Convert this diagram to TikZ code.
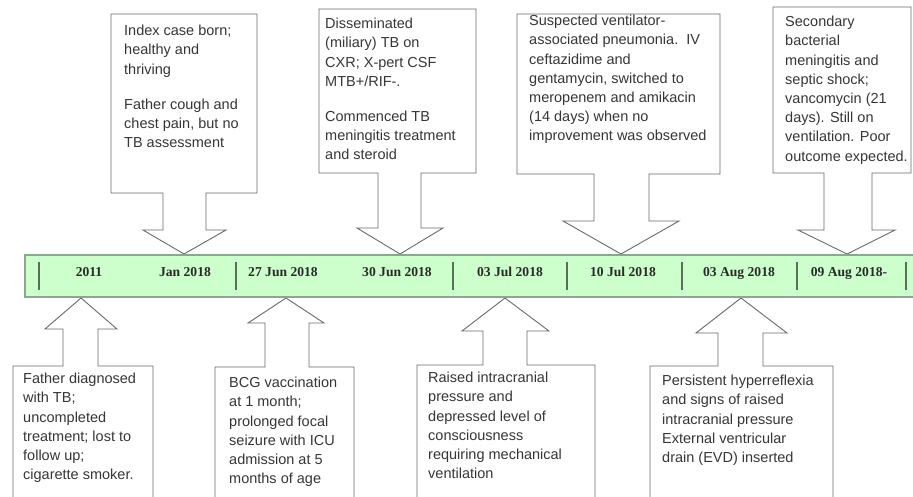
\documentclass[tikz,border=0pt]{standalone}
\usepackage{fontspec}
\setmainfont{Liberation Sans}
\newfontfamily\datefont{Liberation Serif}
\definecolor{boxline}{HTML}{6A6A6A}
\definecolor{evtxt}{HTML}{363636}
\definecolor{barfill}{HTML}{CCFFCC}
\definecolor{barline}{HTML}{8CA88C}
\definecolor{tickcol}{HTML}{587058}
\definecolor{datecol}{HTML}{2A2A2A}
\tikzset{
  callout/.style={draw=boxline, line width=0.9pt, fill=white, line join=miter},
  evtext/.style={anchor=north west, inner sep=0pt, align=left, text=evtxt,
    font=\fontsize{14.5}{19.2}\selectfont},
  datelbl/.style={anchor=base, inner sep=0pt, text=datecol, font=\datefont\bfseries\fontsize{13.6}{15}\selectfont},
  tickmark/.style={draw=tickcol, line width=1.1pt},
  timebar/.style={draw=barline, line width=1.3pt, fill=barfill}
}
\begin{document}
\begin{tikzpicture}[x=1pt,y=-1pt]
\useasboundingbox (0,0) rectangle (913,496);
\clip (0,0) rectangle (913,496);
\fill[white] (0,0) rectangle (913,496);
% top callouts
\draw[callout] (111,14) -- (257,14) -- (257,193) -- (206,193) -- (206,230) -- (226,230) -- (184,254) -- (143,230) -- (163,230) -- (163,193) -- (111,193) -- cycle;
\draw[callout] (319,9) -- (476,9) -- (476,173) -- (421,173) -- (421,228) -- (443,228) -- (400,254) -- (357,228) -- (378,228) -- (378,173) -- (319,173) -- cycle;
\draw[callout] (517,14) -- (720,14) -- (720,174) -- (649,174) -- (649,221) -- (679,221) -- (621,254) -- (563,221) -- (594,221) -- (594,174) -- (517,174) -- cycle;
\draw[callout] (773,7) -- (911,7) -- (911,173) -- (872,173) -- (872,230) -- (895,230) -- (847,254) -- (798,230) -- (824,230) -- (824,173) -- (773,173) -- cycle;
% bottom callouts
\draw[callout] (13,510) -- (13,366) -- (63,366) -- (63,329) -- (45,329) -- (81,298) -- (117,329) -- (98,329) -- (98,366) -- (153,366) -- (153,510);
\draw[callout] (215,510) -- (215,367) -- (265,367) -- (265,323) -- (248,323) -- (286,298) -- (324,323) -- (309,323) -- (309,367) -- (354,367) -- (354,510);
\draw[callout] (417,510) -- (417,365) -- (483,365) -- (483,331) -- (462,331) -- (505,298) -- (549,331) -- (527,331) -- (527,365) -- (595,365) -- (595,510);
\draw[callout] (650,510) -- (650,366) -- (718,366) -- (718,333) -- (696,333) -- (741,298) -- (787,333) -- (763,333) -- (763,366) -- (833,366) -- (833,510);
% texts
\node[evtext] (tA) at (124,25) {Index case born;\\ healthy and\\ thriving\\[16pt] Father cough and\\ chest pain, but no\\ TB assessment};
\node[evtext] (tB) at (325,18) {Disseminated\\ (miliary) TB on\\ CXR; X-pert CSF\\ MTB+/RIF-.\\[16pt] Commenced TB\\ meningitis treatment\\ and steroid};
\node[evtext] (tC) at (529,15) {Suspected ventilator-\\ associated pneumonia.\ \ IV\\ ceftazidime and\\ gentamycin, switched to\\ meropenem and amikacin\\ (14 days) when no\\ improvement was observed};
\node[evtext] (tD) at (785,16) {Secondary\\ bacterial\\ meningitis and\\ septic shock;\\ vancomycin (21\\ days). Still on\\ ventilation. Poor\\ outcome expected.};
\node[evtext] (tE) at (23,373) {Father diagnosed\\ with TB;\\ uncompleted\\ treatment; lost to\\ follow up;\\ cigarette smoker.};
\node[evtext] (tF) at (229,377) {BCG vaccination\\ at 1 month;\\ prolonged focal\\ seizure with ICU\\ admission at 5\\ months of age};
\node[evtext] (tG) at (428,372) {Raised intracranial\\ pressure and\\ depressed level of\\ consciousness\\ requiring mechanical\\ ventilation};
\node[evtext] (tH) at (662,375) {Persistent hyperreflexia\\ and signs of raised\\ intracranial pressure\\ External ventricular\\ drain (EVD) inserted};
% timeline bar
\draw[timebar] (25,255) rectangle (930,297);
\foreach \tx/\nm in {39/k1,236/k2,453/k3,567/k4,682/k5,797/k6,906/k7}{
  \coordinate (\nm a) at (\tx,262);
  \coordinate (\nm b) at (\tx,290);
  \draw[tickmark] (\nm a) -- (\nm b);
}
\node[datelbl] (d1) at (89,276) {2011};
\node[datelbl] (d2) at (185,276) {Jan 2018};
\node[datelbl] (d3) at (283,276) {27 Jun 2018};
\node[datelbl] (d4) at (397,276) {30 Jun 2018};
\node[datelbl] (d5) at (510,276) {03 Jul 2018};
\node[datelbl] (d6) at (623,276) {10 Jul 2018};
\node[datelbl] (d7) at (739,276) {03 Aug 2018};
\node[datelbl] (d8) at (849,276) {09 Aug 2018-};
\end{tikzpicture}
\end{document}
